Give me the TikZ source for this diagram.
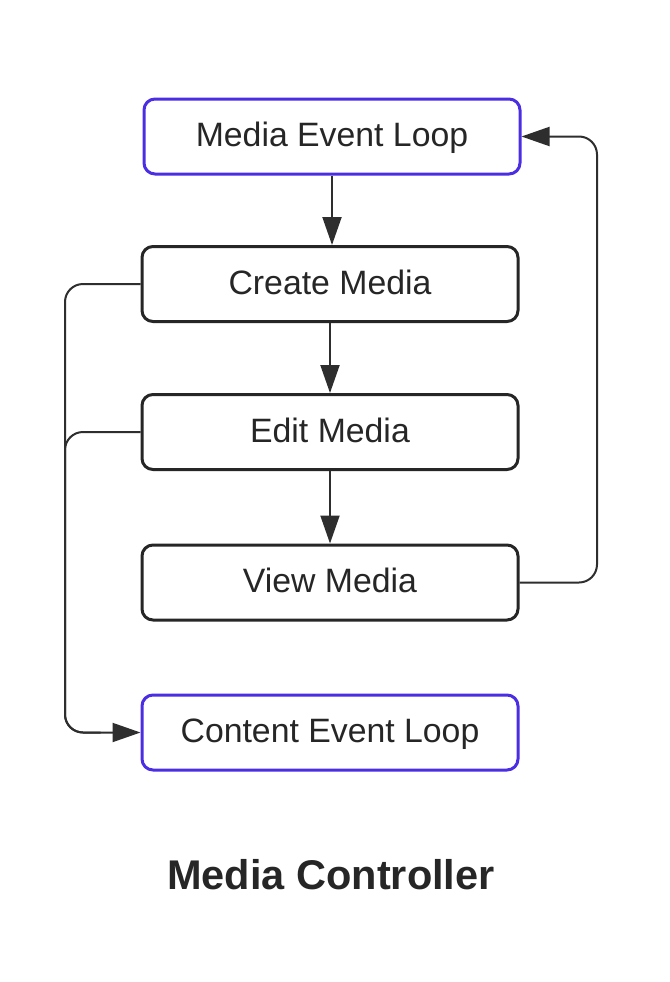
\documentclass[tikz,border=0pt]{standalone}
\usepackage{fontspec}
\setmainfont{Liberation Sans}
\usetikzlibrary{arrows.meta}
\definecolor{boxblue}{HTML}{4B2DE3}
\definecolor{ink}{HTML}{262626}
\definecolor{wire}{HTML}{2E2E2E}
\begin{document}
\begin{tikzpicture}[x=1pt,y=-1pt,
  stepbox/.style={draw=ink, line width=3pt, rounded corners=11pt, fill=white,
    minimum width=376pt, minimum height=75pt, inner sep=0pt,
    text height=24pt, text depth=4pt, text=ink,
    font=\fontsize{33.8}{40}\selectfont},
  loopbox/.style={stepbox, draw=boxblue},
  conn/.style={draw=wire, line width=2pt, rounded corners=18pt},
  tip/.style={-{Triangle[length=28pt,width=19pt]}}
]
\useasboundingbox[fill=white] (0,0) rectangle (669,982);
\node[loopbox] (mel) at (332,136.5) {Media Event Loop};
\node[stepbox] (cm) at (330,284) {Create Media};
\node[stepbox] (em) at (330,432) {Edit Media};
\node[stepbox] (vm) at (330,582.5) {View Media};
\node[loopbox] (cel) at (330,732.5) {Content Event Loop};
\node[anchor=base, text=ink, font=\fontsize{41.5}{48}\selectfont\bfseries] (title) at (331,889) {Media Controller};
\coordinate (lx) at (65,0);
\coordinate (rx) at (597,0);
\draw[conn, tip] (mel.south) -- (mel.south |- cm.north);
\draw[conn, tip] (cm.south) -- (em.north);
\draw[conn, tip] (em.south) -- (vm.north);
\draw[conn, tip] (cm.west) -- (cm.west -| lx) -- (cel.west -| lx) -- (cel.west);
\draw[conn] (em.west) -- (em.west -| lx) -- (cel.west -| lx) -- ([xshift=-40pt]cel.west);
\draw[conn, tip] (vm.east) -- (vm.east -| rx) -- (mel.east -| rx) -- (mel.east);
\end{tikzpicture}
\end{document}
